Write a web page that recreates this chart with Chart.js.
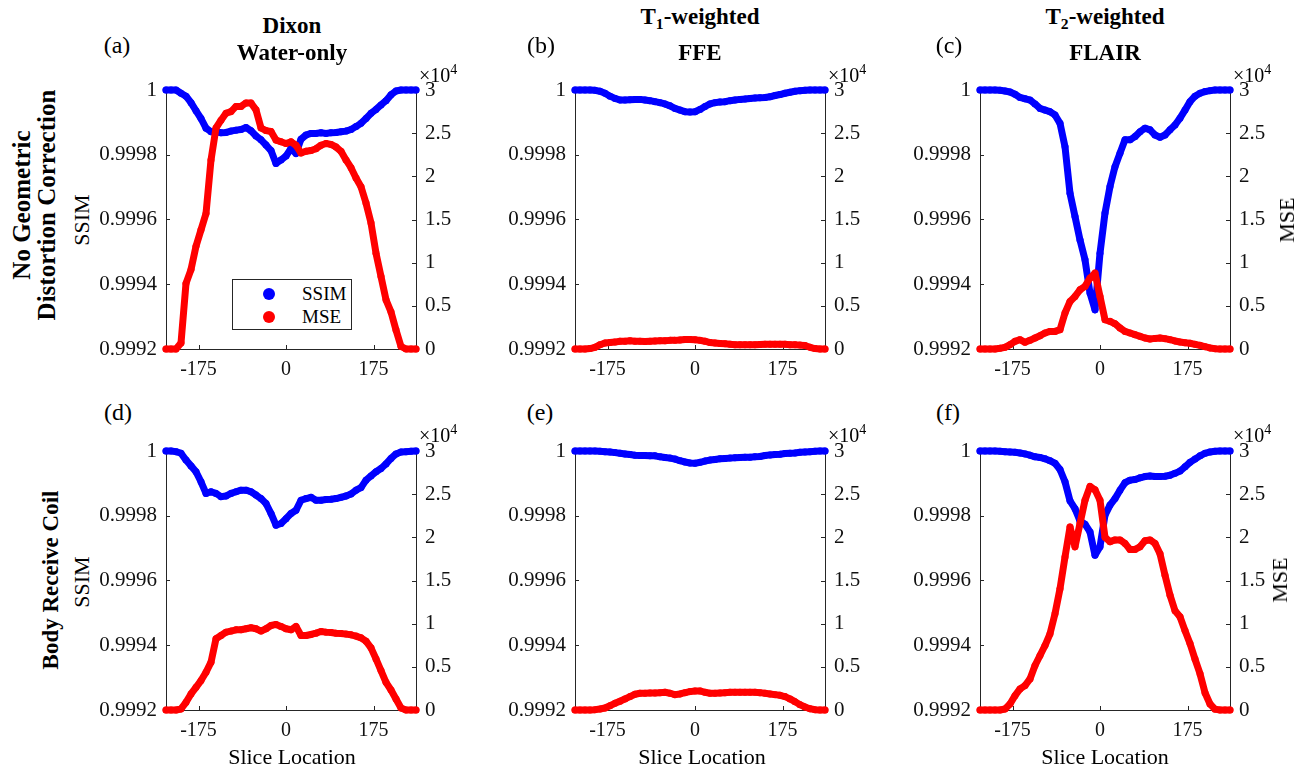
<!DOCTYPE html>
<html>
<head>
<meta charset="utf-8">
<script src="https://cdn.jsdelivr.net/npm/chart.js@4.4.0/dist/chart.umd.min.js"></script>
<style>
  body { margin: 0; background: #fff; }
  #page { position: relative; width: 1304px; height: 771px; overflow: hidden;
          font-family: "Liberation Serif", "Times New Roman", serif; color: #000; }
  canvas { position: absolute; }
  .t { position: absolute; white-space: nowrap; line-height: 1; transform: translate(-50%, -50%); }
  .lt { position: absolute; white-space: nowrap; line-height: 1; }
  .b { font-weight: bold; }
  .rot { transform: translate(-50%, -50%) rotate(-90deg); }
  sub { font-size: 0.68em; line-height: 0; vertical-align: -0.35em; }
  sup { font-size: 0.7em; line-height: 0; vertical-align: 0.55em; }
  .legend { position: absolute; left: 232px; top: 279px; width: 120px; height: 51px;
            box-sizing: border-box; border: 1px solid #262626; background: #fff; }
  .dot { position: absolute; width: 12px; height: 12px; border-radius: 50%; }
</style>
</head>
<body>
<div id="page">
  <!-- column titles -->
  <div class="t b" style="left:292px;top:25px;font-size:23px">Dixon</div>
  <div class="t b" style="left:292px;top:52px;font-size:23px">Water-only</div>
  <div class="t b" style="left:700px;top:16px;font-size:23px">T<sub>1</sub>-weighted</div>
  <div class="t b" style="left:700px;top:52px;font-size:23px">FFE</div>
  <div class="t b" style="left:1105px;top:16px;font-size:23px">T<sub>2</sub>-weighted</div>
  <div class="t b" style="left:1105px;top:52px;font-size:23px">FLAIR</div>

  <!-- panel letters -->
  <div class="t" style="left:117px;top:45px;font-size:24px">(a)</div>
  <div class="t" style="left:541px;top:45px;font-size:24px">(b)</div>
  <div class="t" style="left:949px;top:45px;font-size:24px">(c)</div>
  <div class="t" style="left:118px;top:412px;font-size:24px">(d)</div>
  <div class="t" style="left:540px;top:412px;font-size:24px">(e)</div>
  <div class="t" style="left:948px;top:412px;font-size:24px">(f)</div>

  <!-- row labels -->
  <div class="t b rot" style="left:34px;top:205px;font-size:25px;line-height:25px;text-align:center">No Geometric<br>Distortion Correction</div>
  <div class="t b rot" style="left:50px;top:580px;font-size:23px">Body Receive Coil</div>

  <!-- axis titles -->
  <div class="t rot" style="left:82px;top:220px;font-size:22px">SSIM</div>
  <div class="t rot" style="left:82px;top:582px;font-size:22px">SSIM</div>
  <div class="t rot" style="left:1287px;top:220px;font-size:22px">MSE</div>
  <div class="t rot" style="left:1280px;top:580px;font-size:22px">MSE</div>
  <div class="t" style="left:292px;top:757px;font-size:22px">Slice Location</div>
  <div class="t" style="left:702px;top:757px;font-size:22px">Slice Location</div>
  <div class="t" style="left:1105px;top:757px;font-size:22px">Slice Location</div>

  <!-- right axis exponent -->
  <div class="lt" style="left:419px;top:65px;font-size:20px">×10<sup>4</sup></div>
  <div class="lt" style="left:828px;top:65px;font-size:20px">×10<sup>4</sup></div>
  <div class="lt" style="left:1233px;top:65px;font-size:20px">×10<sup>4</sup></div>
  <div class="lt" style="left:419px;top:425px;font-size:20px">×10<sup>4</sup></div>
  <div class="lt" style="left:828px;top:425px;font-size:20px">×10<sup>4</sup></div>
  <div class="lt" style="left:1233px;top:425px;font-size:20px">×10<sup>4</sup></div>
</div>

<script>
// slice locations shared by every panel
const sliceLoc = [-240, -230, -220, -210, -200, -190, -180, -170, -160, -150,
  -140, -130, -120, -110, -100, -90, -80, -70, -60, -50,
  -40, -30, -20, -10, 0, 10, 20, 30, 40, 50,
  60, 70, 80, 90, 100, 110, 120, 130, 140, 150,
  160, 170, 180, 190, 200, 210, 220, 230, 240, 250, 260];

const xTicks = [-175, 0, 175];
const ssimTicks = [0.9992, 0.9994, 0.9996, 0.9998, 1];
const mseTicks = [0, 0.5, 1, 1.5, 2, 2.5, 3];   // x 10^4

// (a) Dixon water-only, no distortion correction
const ssimA = [1, 1, 1, 0.99999, 0.999981, 0.999961, 0.999936, 0.999912, 0.999882, 0.999871,
  0.999871, 0.999868, 0.999869, 0.999873, 0.999876, 0.999878, 0.999884, 0.999874, 0.999858, 0.999846,
  0.99983, 0.999813, 0.999773, 0.999784, 0.999796, 0.99982, 0.999804, 0.999848, 0.999861, 0.999866,
  0.999866, 0.999868, 0.999866, 0.999868, 0.999869, 0.999871, 0.999873, 0.999878, 0.999887, 0.999897,
  0.999912, 0.999928, 0.99994, 0.999954, 0.999967, 0.999985, 0.999997, 1, 1, 1, 1];
const mseA = [0, 0, 0, 0.07, 0.76, 0.92, 1.19, 1.38, 1.57, 2.19,
  2.56, 2.65, 2.73, 2.75, 2.81, 2.81, 2.85, 2.85, 2.77, 2.56,
  2.53, 2.52, 2.42, 2.4, 2.38, 2.4, 2.36, 2.27, 2.29, 2.3,
  2.32, 2.36, 2.38, 2.37, 2.34, 2.29, 2.19, 2.1, 1.98, 1.88,
  1.69, 1.46, 1.11, 0.84, 0.57, 0.43, 0.22, 0.03, 0, 0, 0];

// (b) T1-weighted FFE, no distortion correction
const ssimB = [1, 1, 1, 1, 0.999999, 0.999996, 0.99999, 0.999981, 0.999974, 0.999969,
  0.999969, 0.99997, 0.999971, 0.999971, 0.999969, 0.999967, 0.999964, 0.999961, 0.999957, 0.999951,
  0.999943, 0.999938, 0.999933, 0.999932, 0.999933, 0.99994, 0.999949, 0.999957, 0.999961, 0.999963,
  0.999964, 0.999967, 0.999969, 0.999971, 0.999972, 0.999974, 0.999975, 0.999976, 0.999977, 0.999979,
  0.999983, 0.999986, 0.99999, 0.999993, 0.999996, 0.999998, 0.999999, 1, 1, 1, 1];
const mseB = [0, 0, 0, 0.005, 0.02, 0.05, 0.07, 0.075, 0.08, 0.09,
  0.09, 0.095, 0.09, 0.09, 0.088, 0.09, 0.092, 0.095, 0.095, 0.1,
  0.1, 0.105, 0.11, 0.11, 0.108, 0.1, 0.09, 0.075, 0.07, 0.065,
  0.06, 0.055, 0.05, 0.05, 0.05, 0.05, 0.05, 0.052, 0.055, 0.055,
  0.055, 0.055, 0.055, 0.05, 0.05, 0.045, 0.04, 0.02, 0.005, 0, 0];

// (c) T2-weighted FLAIR, no distortion correction
const ssimC = [1, 1, 1, 1, 0.999999, 0.999997, 0.999994, 0.999987, 0.999977, 0.999973,
  0.999969, 0.999957, 0.999943, 0.999938, 0.999933, 0.999923, 0.999897, 0.999825, 0.999681, 0.999609,
  0.999537, 0.999476, 0.999373, 0.999321, 0.999496, 0.99962, 0.999702, 0.999763, 0.999805, 0.999846,
  0.999846, 0.999856, 0.999871, 0.999882, 0.999877, 0.999861, 0.999854, 0.999861, 0.999877, 0.999892,
  0.999913, 0.999938, 0.999964, 0.999981, 0.99999, 0.999995, 0.999998, 1, 1, 1, 1];
const mseC = [0, 0, 0, 0, 0.008, 0.019, 0.05, 0.089, 0.108, 0.077,
  0.1, 0.127, 0.154, 0.185, 0.204, 0.204, 0.224, 0.417, 0.551, 0.609,
  0.686, 0.725, 0.821, 0.879, 0.609, 0.339, 0.32, 0.293, 0.243, 0.204,
  0.185, 0.166, 0.147, 0.127, 0.116, 0.123, 0.127, 0.12, 0.108, 0.093,
  0.081, 0.073, 0.066, 0.054, 0.042, 0.027, 0.012, 0.004, 0, 0, 0];

// (d) Dixon water-only, body receive coil
const ssimD = [1, 1, 0.999998, 0.999993, 0.999972, 0.999954, 0.999936, 0.999905, 0.999869, 0.999874,
  0.999869, 0.999859, 0.999861, 0.999869, 0.999874, 0.999879, 0.999879, 0.999874, 0.999864, 0.999853,
  0.999838, 0.999807, 0.999771, 0.999776, 0.999791, 0.999807, 0.999817, 0.999848, 0.999853, 0.999857,
  0.999848, 0.999848, 0.99985, 0.999851, 0.999853, 0.999857, 0.999861, 0.999867, 0.999879, 0.999887,
  0.99991, 0.999923, 0.999936, 0.999946, 0.99996, 0.999977, 0.999991, 0.999997, 0.999998, 0.999999, 1];
const mseD = [0, 0, 0, 0.012, 0.089, 0.186, 0.263, 0.341, 0.437, 0.554,
  0.825, 0.863, 0.902, 0.914, 0.929, 0.929, 0.941, 0.952, 0.941, 0.914,
  0.941, 0.979, 0.991, 0.968, 0.941, 0.929, 0.968, 0.863, 0.863, 0.875,
  0.89, 0.91, 0.902, 0.898, 0.89, 0.887, 0.879, 0.871, 0.856, 0.836,
  0.797, 0.72, 0.592, 0.457, 0.321, 0.232, 0.128, 0.023, 0, 0, 0];

// (e) T1-weighted FFE, body receive coil
const ssimE = [1, 1, 1, 1, 1, 0.999999, 0.999998, 0.999997, 0.999995, 0.999993,
  0.999991, 0.999989, 0.999987, 0.999986, 0.999986, 0.999985, 0.999985, 0.999982, 0.99998, 0.999978,
  0.999975, 0.99997, 0.999966, 0.999963, 0.999962, 0.999965, 0.999969, 0.999972, 0.999974, 0.999976,
  0.999977, 0.999978, 0.999979, 0.99998, 0.999981, 0.999981, 0.999982, 0.999983, 0.999986, 0.999988,
  0.999989, 0.99999, 0.999992, 0.999993, 0.999994, 0.999996, 0.999997, 0.999998, 0.999999, 1, 1];
const mseE = [0, 0, 0, 0, 0.004, 0.012, 0.023, 0.05, 0.077, 0.101,
  0.128, 0.155, 0.182, 0.194, 0.194, 0.197, 0.197, 0.201, 0.205, 0.194,
  0.178, 0.186, 0.201, 0.213, 0.221, 0.221, 0.205, 0.194, 0.194, 0.197,
  0.201, 0.205, 0.205, 0.205, 0.205, 0.205, 0.205, 0.201, 0.194, 0.186,
  0.178, 0.17, 0.155, 0.128, 0.097, 0.062, 0.035, 0.015, 0.004, 0, 0];

// (f) T2-weighted FLAIR, body receive coil
const ssimF = [1, 1, 1, 1, 0.999999, 0.999998, 0.999997, 0.999996, 0.999994, 0.999991,
  0.999987, 0.999982, 0.99998, 0.999976, 0.99997, 0.999962, 0.999943, 0.999905, 0.999846, 0.999822,
  0.999784, 0.999774, 0.99975, 0.999678, 0.999704, 0.999802, 0.999833, 0.999853, 0.999879, 0.999902,
  0.99991, 0.999912, 0.999917, 0.999921, 0.999923, 0.999921, 0.999921, 0.999922, 0.999925, 0.999931,
  0.999938, 0.999951, 0.999965, 0.999975, 0.999985, 0.999993, 0.999997, 0.999999, 1, 1, 1];
const mseF = [0, 0, 0, 0, 0, 0.012, 0.07, 0.166, 0.244, 0.283,
  0.36, 0.515, 0.631, 0.747, 0.883, 1.115, 1.405, 1.773, 2.12, 1.89,
  2.16, 2.43, 2.59, 2.55, 2.43, 2.0, 1.95, 1.97, 1.97, 1.93,
  1.86, 1.86, 1.89, 1.96, 1.97, 1.93, 1.81, 1.56, 1.33, 1.15,
  1.08, 0.92, 0.77, 0.59, 0.42, 0.2, 0.07, 0.01, 0, 0, 0];

const AXIS_COLOR = '#262626';
const TICK_LEN = 4;
const PLOT_W = 250, PLOT_H = 259;
const PAD_L = 72, PAD_R = 50, PAD_T = 26, PAD_B = 36;

// MATLAB style ticks pointing into the plot
const inwardTicks = {
  id: 'inwardTicks',
  beforeDatasetsDraw(chart) {
    const { ctx, chartArea: a, scales } = chart;
    ctx.save();
    ctx.strokeStyle = AXIS_COLOR;
    ctx.lineWidth = 1;
    ctx.beginPath();
    scales.x.ticks.forEach(t => {
      const px = Math.round(scales.x.getPixelForValue(t.value)) + 0.5;
      ctx.moveTo(px, a.bottom);
      ctx.lineTo(px, a.bottom - TICK_LEN);
    });
    scales.y.ticks.forEach(t => {
      const py = Math.round(scales.y.getPixelForValue(t.value)) + 0.5;
      ctx.moveTo(a.left, py);
      ctx.lineTo(a.left + TICK_LEN, py);
    });
    scales.y2.ticks.forEach(t => {
      const py = Math.round(scales.y2.getPixelForValue(t.value)) + 0.5;
      ctx.moveTo(a.right, py);
      ctx.lineTo(a.right - TICK_LEN, py);
    });
    ctx.stroke();
    ctx.restore();
  }
};

const xFont = { family: '"Liberation Serif", "Times New Roman", serif', size: 20 };
const yFont = { family: '"Liberation Serif", "Times New Roman", serif', size: 21 };

function series(values, color, axis, order) {
  return {
    data: sliceLoc.map((x, i) => ({ x: x, y: values[i] })),
    yAxisID: axis,
    order: order,
    showLine: true,
    borderColor: color,
    backgroundColor: color,
    borderWidth: 7,
    borderCapStyle: 'round',
    borderJoinStyle: 'round',
    pointRadius: 3.5,
    pointBorderWidth: 0,
    pointBackgroundColor: color,
    clip: false
  };
}

function makePanel(left, top, ssim, mse) {
  const page = document.getElementById('page');
  const cv = document.createElement('canvas');
  cv.width = PLOT_W + PAD_L + PAD_R;
  cv.height = PLOT_H + PAD_T + PAD_B;
  cv.style.left = (left - PAD_L) + 'px';
  cv.style.top = (top - PAD_T) + 'px';
  page.insertBefore(cv, page.firstChild);

  new Chart(cv.getContext('2d'), {
    type: 'scatter',
    data: {
      datasets: [
        series(mse, '#ff0000', 'y2', 0),
        series(ssim, '#0000ff', 'y', 1)
      ]
    },
    options: {
      responsive: false,
      animation: false,
      devicePixelRatio: 1,
      layout: { padding: { top: PAD_T, left: 0, right: 0, bottom: 0 } },
      plugins: { legend: { display: false }, tooltip: { enabled: false } },
      scales: {
        x: {
          type: 'linear', position: 'bottom', min: -240, max: 260,
          grid: { display: false, drawTicks: false },
          border: { color: AXIS_COLOR, width: 1 },
          ticks: { font: xFont, color: '#111', padding: 9, maxRotation: 0 },
          afterBuildTicks: s => { s.ticks = xTicks.map(v => ({ value: v })); },
          afterFit: s => { s.height = PAD_B; }
        },
        y: {
          type: 'linear', position: 'left', min: 0.9992, max: 1,
          grid: { display: false, drawTicks: false },
          border: { color: AXIS_COLOR, width: 1 },
          ticks: { font: yFont, color: '#111', padding: 9,
                   callback: v => (v >= 1 ? '1' : v.toFixed(4)) },
          afterBuildTicks: s => { s.ticks = ssimTicks.map(v => ({ value: v })); },
          afterFit: s => { s.width = PAD_L; }
        },
        y2: {
          type: 'linear', position: 'right', min: 0, max: 3,
          grid: { display: false, drawTicks: false },
          border: { color: AXIS_COLOR, width: 1 },
          ticks: { font: yFont, color: '#111', padding: 9, callback: v => String(v) },
          afterBuildTicks: s => { s.ticks = mseTicks.map(v => ({ value: v })); },
          afterFit: s => { s.width = PAD_R; }
        }
      }
    },
    plugins: [inwardTicks]
  });
}

makePanel(166, 90, ssimA, mseA);
makePanel(575, 90, ssimB, mseB);
makePanel(980, 90, ssimC, mseC);
makePanel(166, 451, ssimD, mseD);
makePanel(575, 451, ssimE, mseE);
makePanel(980, 451, ssimF, mseF);

// legend of panel (a)
const lg = document.createElement('div');
lg.className = 'legend';
lg.innerHTML =
  '<div class="dot" style="left:30px;top:8px;background:#0000ff"></div>' +
  '<div class="lt" style="left:69px;top:4px;font-size:19px">SSIM</div>' +
  '<div class="dot" style="left:30px;top:31px;background:#ff0000"></div>' +
  '<div class="lt" style="left:69px;top:27px;font-size:19px">MSE</div>';
document.getElementById('page').appendChild(lg);
</script>
</body>
</html>
